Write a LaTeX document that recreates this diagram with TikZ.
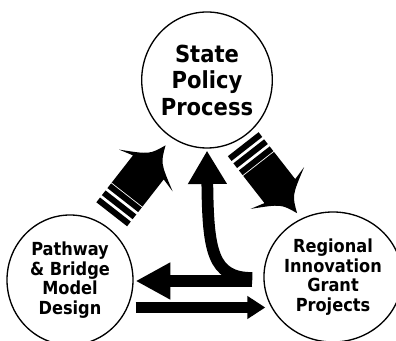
\documentclass[tikz,border=0pt]{standalone}
\usepackage{fontspec}
\setmainfont{DejaVu Sans Condensed}
\usetikzlibrary{shapes.geometric,arrows.meta,calc}

\tikzset{
	stage/.style={draw,line width=1pt,ellipse,inner sep=0pt,align=center},
	big/.style={font=\bfseries\fontsize{17.6}{19.9}\selectfont},
	small/.style={font=\bfseries\fontsize{13.5}{14.6}\selectfont},
	flow/.style={line width=#1},
	striped arrow/.pic={
		\foreach \s in {-43.5,-34.5,-25.5}
		\fill (\s,-19.5) rectangle ++(6,39);
		\fill (-18.5,-19.5) -- (16,-19.5) -- (12,-34) .. controls (27,-7) .. (44,0)
		.. controls (27,7) .. (12,34) -- (16,19.5) -- (-18.5,19.5) -- cycle;
	}
}

\begin{document}
\begin{tikzpicture}[x=0.75pt,y=-0.75pt]
		\useasboundingbox (0,0) rectangle (396,341);
		%
		\node[stage,big,minimum width=93pt,minimum height=102pt] (SP) at (207,80) {State\\Policy\\Process};
		\node[stage,small,minimum width=94.5pt,minimum height=97.5pt] (PB) at (70,280) {Pathway\\\& Bridge\\Model\\Design};
		\node[stage,small,minimum width=90pt,minimum height=97.5pt] (RI) at (333,277) {Regional\\Innovation\\Grant\\Projects};
		%
		\path ($(PB)!0.5!(SP)$) pic[rotate=52] {striped arrow};
		\path ($(SP)!0.5!(RI)$) pic[rotate=-52] {striped arrow};
		%
		\draw[flow=9pt,-{Triangle[length=26pt,width=26pt]}]
		($(RI.west)+(-11,4)$) -- ($(PB.east)+(2,1)$);
		\draw[flow=8.7pt,-{Triangle[length=13.5pt,width=16.5pt]}]
		($(PB.east)+(2,27.5)$) -- ($(RI.west)+(2,30.5)$);
		\draw[flow=8.8pt,-{Triangle[length=25pt,width=27.5pt]}]
		($(RI.west)+(-11,1)$) .. controls +(-40,0) and +(1,100) .. ($(SP.south)+(0,2)$);
\end{tikzpicture}
\end{document}
